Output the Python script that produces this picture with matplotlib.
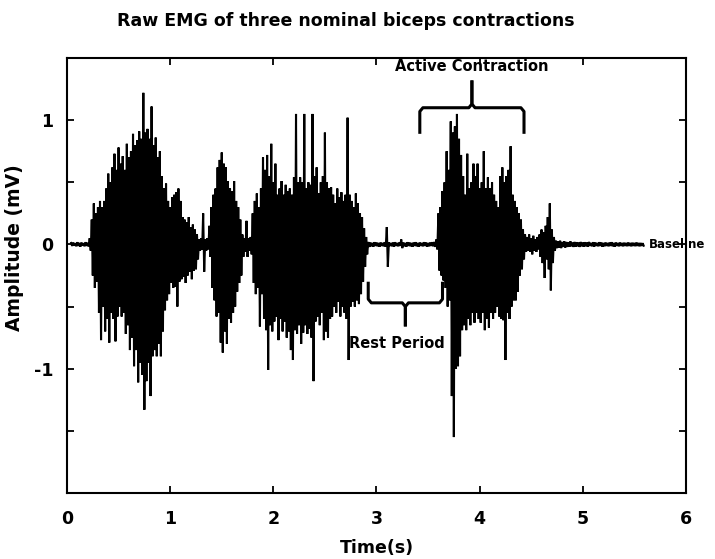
import numpy as np
import matplotlib
matplotlib.use("Agg")
import matplotlib.pyplot as plt

# ---------------- data ----------------
title = "Raw EMG of three nominal biceps contractions"
x_label = "Time(s)"
y_label = "Amplitude (mV)"

# peak samples every 0.02 s starting at 0.04 s; each step has a positive
# peak followed (0.01 s later) by a negative peak
sample_start_s = 0.04
sample_step_s = 0.02

upper_peaks_mv = [
    0.012, 0.015, 0.010, 0.018, 0.012, 0.015, 0.010, 0.018, 0.014,
    0.05, 0.20, 0.33, 0.25, 0.30, 0.35, 0.30, 0.35, 0.45, 0.57, 0.50,
    0.62, 0.73, 0.60, 0.78, 0.65, 0.71, 0.60, 0.81, 0.70, 0.75,
    0.89, 0.80, 0.84, 0.91, 0.85, 1.22, 0.90, 0.93, 0.85, 1.11,
    0.80, 0.86, 0.70, 0.75, 0.55, 0.45, 0.49, 0.35, 0.30, 0.38,
    0.40, 0.42, 0.45, 0.35, 0.22, 0.20, 0.18, 0.22, 0.14, 0.16,
    0.12, 0.08, 0.04, 0.05, 0.25, 0.04, 0.05, 0.15, 0.30, 0.40,
    0.45, 0.62, 0.68, 0.74, 0.65, 0.62, 0.51, 0.45, 0.43, 0.51,
    0.35, 0.30, 0.20, 0.08, 0.05, 0.19, 0.05, 0.06, 0.25, 0.35,
    0.41, 0.30, 0.45, 0.70, 0.60, 0.72, 0.55, 0.81, 0.50, 0.65,
    0.40, 0.45, 0.51, 0.40, 0.48, 0.43, 0.45, 0.40, 0.54, 1.05,
    0.50, 0.54, 0.50, 1.05, 0.45, 0.50, 0.48, 1.05, 0.55, 0.62,
    0.41, 0.50, 0.55, 0.90, 0.50, 0.45, 0.46, 0.40, 0.33, 0.45,
    0.38, 0.42, 0.35, 0.40, 1.02, 0.40, 0.35, 0.30, 0.41, 0.33,
    0.25, 0.22, 0.13, 0.06, 0.02, 0.015, 0.012, 0.018, 0.015, 0.012,
    0.015, 0.012, 0.018, 0.14, 0.015, 0.012, 0.015, 0.018, 0.012, 0.015,
    0.04, 0.015, 0.012, 0.018, 0.015, 0.012, 0.015, 0.018, 0.012, 0.015,
    0.012, 0.018, 0.015, 0.012, 0.015, 0.018, 0.02, 0.04, 0.25, 0.30,
    0.43, 0.50, 0.75, 0.60, 0.99, 0.90, 0.95, 1.05, 0.85, 0.72,
    0.55, 0.40, 0.73, 0.45, 0.50, 0.65, 0.55, 0.65, 0.45, 0.50,
    0.75, 0.45, 0.54, 0.45, 0.50, 0.40, 0.35, 0.30, 0.55, 0.62,
    0.50, 0.55, 0.60, 0.79, 0.40, 0.35, 0.30, 0.25, 0.20, 0.12,
    0.08, 0.06, 0.08, 0.05, 0.07, 0.04, 0.06, 0.08, 0.12, 0.10,
    0.15, 0.22, 0.33, 0.12, 0.06, 0.03, 0.025, 0.03, 0.02, 0.025,
    0.02, 0.018, 0.025, 0.015, 0.02, 0.018, 0.015, 0.02, 0.015, 0.018,
    0.015, 0.02, 0.012, 0.018, 0.015, 0.012, 0.018, 0.015, 0.012, 0.015,
    0.012, 0.015, 0.018, 0.012, 0.015, 0.012, 0.015, 0.012, 0.014, 0.012,
    0.015, 0.012, 0.014, 0.012, 0.015, 0.012, 0.012, 0.010,
]

lower_peaks_mv = [
    -0.012, -0.010, -0.015, -0.012, -0.018, -0.010, -0.015, -0.012, -0.016,
    -0.05, -0.25, -0.35, -0.30, -0.55, -0.77, -0.50, -0.70, -0.60, -0.79, -0.55,
    -0.60, -0.78, -0.58, -0.50, -0.58, -0.55, -0.72, -0.65, -0.85, -0.75,
    -0.98, -0.85, -1.11, -0.95, -1.05, -1.33, -1.10, -0.95, -1.22, -0.90,
    -0.85, -0.90, -0.80, -0.90, -0.70, -0.53, -0.45, -0.40, -0.31, -0.35,
    -0.34, -0.50, -0.30, -0.28, -0.26, -0.31, -0.25, -0.22, -0.28, -0.21,
    -0.20, -0.12, -0.05, -0.04, -0.22, -0.05, -0.04, -0.10, -0.35, -0.45,
    -0.58, -0.55, -0.79, -0.87, -0.70, -0.80, -0.60, -0.63, -0.55, -0.50,
    -0.38, -0.31, -0.25, -0.10, -0.06, -0.10, -0.05, -0.08, -0.31, -0.40,
    -0.35, -0.66, -0.40, -0.60, -0.69, -1.01, -0.65, -0.70, -0.62, -0.58,
    -0.77, -0.60, -0.70, -0.62, -0.75, -0.70, -0.85, -0.93, -0.69, -0.72,
    -0.65, -0.80, -0.71, -0.65, -0.72, -0.68, -0.75, -1.10, -0.62, -0.58,
    -0.65, -0.55, -0.77, -0.70, -0.75, -0.60, -0.58, -0.50, -0.55, -0.46,
    -0.58, -0.50, -0.55, -0.60, -0.93, -0.50, -0.46, -0.50, -0.45, -0.48,
    -0.40, -0.30, -0.18, -0.08, -0.02, -0.015, -0.018, -0.012, -0.015, -0.018,
    -0.012, -0.015, -0.018, -0.18, -0.012, -0.015, -0.018, -0.012, -0.015, -0.012,
    -0.03, -0.015, -0.018, -0.012, -0.015, -0.018, -0.012, -0.015, -0.018, -0.012,
    -0.015, -0.012, -0.018, -0.015, -0.012, -0.015, -0.02, -0.04, -0.21, -0.25,
    -0.29, -0.35, -0.50, -0.45, -1.22, -1.55, -1.00, -0.98, -0.90, -0.69,
    -0.65, -0.69, -0.60, -0.65, -0.55, -0.63, -0.55, -0.60, -0.63, -0.55,
    -0.69, -0.60, -0.67, -0.55, -0.60, -0.55, -0.50, -0.58, -0.60, -0.61,
    -0.93, -0.55, -0.60, -0.50, -0.45, -0.45, -0.38, -0.25, -0.20, -0.12,
    -0.06, -0.05, -0.06, -0.08, -0.05, -0.06, -0.04, -0.10, -0.15, -0.27,
    -0.12, -0.20, -0.37, -0.15, -0.05, -0.03, -0.025, -0.03, -0.02, -0.025,
    -0.02, -0.018, -0.015, -0.02, -0.018, -0.015, -0.02, -0.015, -0.018, -0.015,
    -0.018, -0.012, -0.015, -0.018, -0.012, -0.015, -0.012, -0.018, -0.015, -0.012,
    -0.015, -0.012, -0.015, -0.018, -0.012, -0.015, -0.012, -0.015, -0.012, -0.014,
    -0.012, -0.015, -0.012, -0.014, -0.012, -0.015, -0.012, -0.010,
]

x_ticks = [0, 1, 2, 3, 4, 5, 6]
x_tick_labels = ["0", "1", "2", "3", "4", "5", "6"]
y_ticks = [-1.5, -1.0, -0.5, 0.0, 0.5, 1.0]
y_tick_labels = ["", "-1", "", "0", "", "1"]
x_limits = (0, 6)
y_limits = (-2, 1.5)

# annotations: (label, text position) and brace spans (x0, x1, y_end, y_bar, y_tip)
active_label = "Active Contraction"
active_brace = (3.42, 4.43, 0.89, 1.10, 1.32)
active_text_pos = (3.92, 1.43)
rest_label = "Rest Period"
rest_brace = (2.92, 3.64, -0.30, -0.47, -0.66)
rest_text_pos = (3.2, -0.8)
baseline_label = "Baseline"
baseline_text_pos = (5.64, 0.0)

# ---------------- build signal ----------------
n = len(upper_peaks_mv)
t_up = sample_start_s + sample_step_s * np.arange(n)
t_low = t_up + sample_step_s / 2
t = np.empty(2 * n)
y = np.empty(2 * n)
t[0::2] = t_up
t[1::2] = t_low
y[0::2] = upper_peaks_mv
y[1::2] = lower_peaks_mv

# ---------------- figure ----------------
fig = plt.figure(figsize=(7.15, 5.59), dpi=100)
ax = fig.add_axes([0.0937, 0.1181, 0.8657, 0.7781])

ax.plot(t, y, color="black", linewidth=1.5, solid_joinstyle="miter")

ax.set_xlim(*x_limits)
ax.set_ylim(*y_limits)
ax.set_xticks(x_ticks)
ax.set_xticklabels(x_tick_labels, fontsize=12.5, fontweight="bold")
ax.set_yticks(y_ticks)
ax.set_yticklabels(y_tick_labels, fontsize=12.5, fontweight="bold")
ax.tick_params(direction="in", length=5, width=1.3, top=True, right=True)
ax.tick_params(axis="x", pad=12)
ax.tick_params(axis="y", pad=10)
for s in ax.spines.values():
    s.set_linewidth(1.5)

ax.set_xlabel(x_label, fontsize=12.5, fontweight="bold", labelpad=8)
ax.set_ylabel(y_label, fontsize=13.5, fontweight="bold")
ax.yaxis.set_label_coords(-0.069, 0.563)
fig.text(0.484, 0.962, title, ha="center", va="center", fontsize=12.5, fontweight="bold")


def draw_brace(x0, x1, y_end, y_bar, y_tip):
    xm = (x0 + x1) / 2
    d = 0.03 * (1 if y_bar > y_end else -1)
    ax.plot([x0, x0, x0 + 0.03, xm - 0.03, xm, xm],
            [y_end, y_bar - d, y_bar, y_bar, y_bar + d, y_tip],
            color="black", linewidth=2.2, solid_capstyle="butt")
    ax.plot([xm, xm, xm + 0.03, x1 - 0.03, x1, x1],
            [y_tip, y_bar + d, y_bar, y_bar, y_bar - d, y_end],
            color="black", linewidth=2.2, solid_capstyle="butt")


draw_brace(*active_brace)
draw_brace(*rest_brace)

ax.text(*active_text_pos, active_label, ha="center", va="center",
        fontsize=10.5, fontweight="bold")
ax.text(*rest_text_pos, rest_label, ha="center", va="center",
        fontsize=10.5, fontweight="bold")
ax.text(*baseline_text_pos, baseline_label, ha="left", va="center",
        fontsize=8.5, fontweight="bold", clip_on=False)

fig.savefig("out.png", dpi=100)
